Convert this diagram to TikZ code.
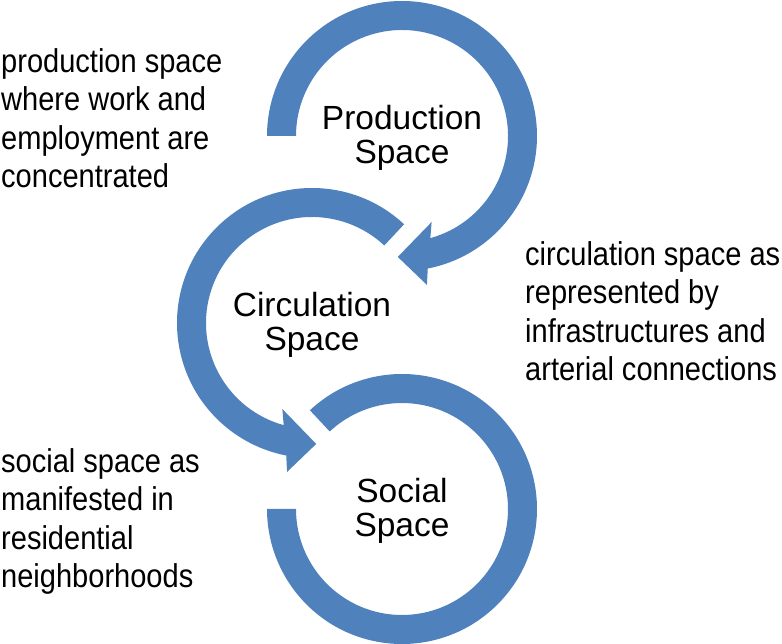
\documentclass[tikz,border=0pt]{standalone}
\usepackage{fontspec}
\setmainfont{Liberation Sans}
\newfontfamily\notefont[FakeStretch=0.88]{Liberation Sans}
\definecolor{ringblue}{RGB}{79,129,189}
\begin{document}
\begin{tikzpicture}[x=1pt,y=1pt,
  ring/.style={fill=ringblue},
  title/.style={align=center,inner sep=0pt,yshift=-2pt,font=\fontsize{33.5}{33.5}\selectfont},
  note/.style={align=left,inner sep=0pt,anchor=north west,font=\notefont\fontsize{33}{38.3}\selectfont}]
\useasboundingbox (0,0) rectangle (782,643);
\pgfmathsetmacro{\ro}{135}
\pgfmathsetmacro{\ri}{106}
\coordinate (pc) at (402,507);
\coordinate (cc) at (312,320);
\coordinate (sc) at (402,134);
% production ring, clockwise, head at the bottom
\fill[ring,shift={(pc)}] (180:\ro) arc[start angle=180,end angle=-79,radius=\ro] -- (-80.5:151) -- (-92:121) -- (-71:91) -- (-74.5:\ri) arc[start angle=-74.5,end angle=180,radius=\ri] -- cycle;
% circulation ring, counterclockwise
\fill[ring,shift={(cc)}] (47:\ro) arc[start angle=47,end angle=259,radius=\ro] -- (260.5:151) -- (272:121) -- (251:91) -- (254.5:\ri) arc[start angle=254.5,end angle=47,radius=\ri] -- cycle;
% social ring, no head
\fill[ring,shift={(sc)}] (133:\ro) arc[start angle=133,end angle=-180,radius=\ro] -- (-180:\ri) arc[start angle=-180,end angle=133,radius=\ri] -- cycle;
\node[title] (prod) at (pc) {Production\\Space};
\node[title] (circ) at (cc) {Circulation\\Space};
\node[title] (soc) at (sc) {Social\\Space};
\node[note] (prodnote) at (1,594.6) {production space\\where work and\\employment are\\concentrated};
\node[note] (circnote) at (525,401.6) {circulation space as\\represented by\\infrastructures and\\arterial connections};
\node[note] (socnote) at (1,194.6) {social space as\\manifested in\\residential\\neighborhoods};
\end{tikzpicture}
\end{document}
